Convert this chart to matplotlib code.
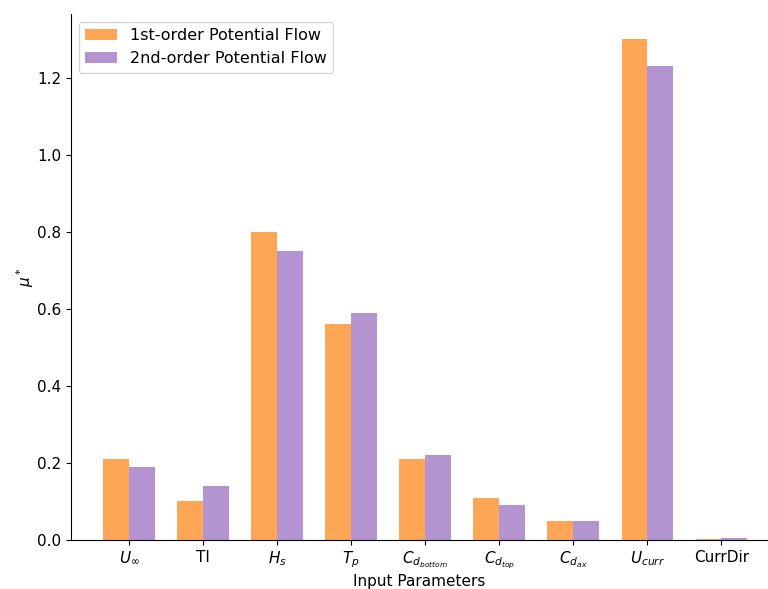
import numpy as np
import matplotlib
matplotlib.use("Agg")
import matplotlib.pyplot as plt

params = [r"$U_\infty$", "TI", r"$H_s$", r"$T_p$", r"$C_{d_{bottom}}$",
          r"$C_{d_{top}}$", r"$C_{d_{ax}}$", r"$U_{curr}$", "CurrDir"]
first_order = [0.21, 0.10, 0.80, 0.56, 0.21, 0.11, 0.05, 1.30, 0.003]
second_order = [0.19, 0.14, 0.75, 0.59, 0.22, 0.09, 0.05, 1.23, 0.005]

fig = plt.figure(figsize=(7.68, 5.89), dpi=100)
ax = fig.add_axes([71 / 768, 49 / 589, 1 - 71 / 768, 526 / 589])

x = np.arange(len(params))
w = 0.35
ax.bar(x - w / 2, first_order, w, color="tab:orange", alpha=0.7,
       label="1st-order Potential Flow")
ax.bar(x + w / 2, second_order, w, color="tab:purple", alpha=0.7,
       label="2nd-order Potential Flow")

ax.set_xticks(x)
ax.set_xticklabels(params, fontsize=11)
ax.tick_params(axis="y", labelsize=11)
ax.set_xlim(-0.785, (768 - 129.5) / 74)
ax.set_ylim(0, 1.365)
ax.set_xlabel("Input Parameters", fontsize=11, labelpad=2)
ax.set_ylabel(r"$\mu^*$", fontsize=11, labelpad=1)
ax.spines["top"].set_visible(False)
ax.spines["right"].set_visible(False)
ax.legend(loc="upper left", fontsize=11.5)

fig.savefig("out.png", dpi=100)
